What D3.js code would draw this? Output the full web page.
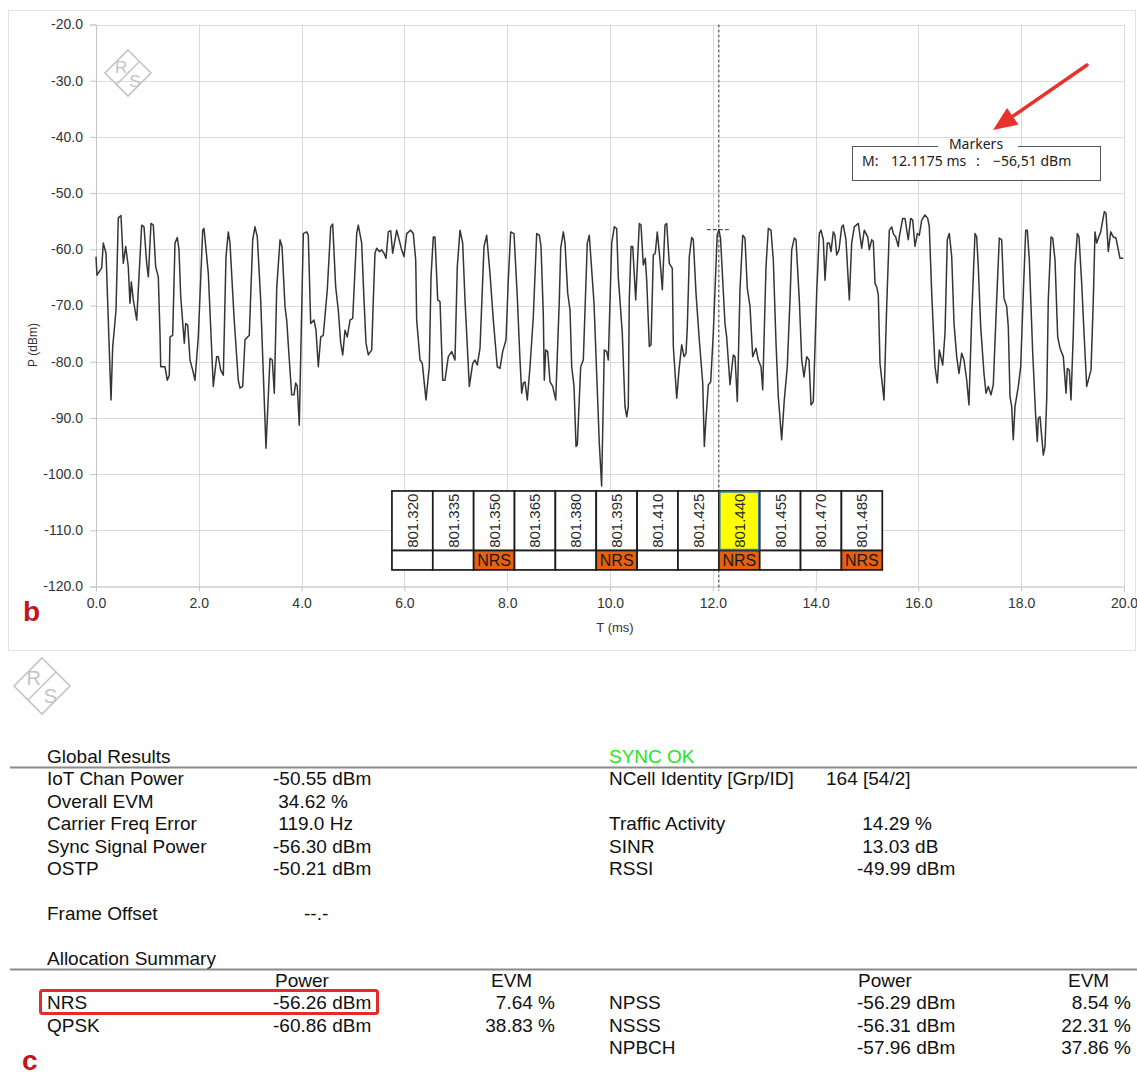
<!DOCTYPE html>
<html>
<head>
<meta charset="utf-8">
<script src="https://cdn.jsdelivr.net/npm/d3@7"></script>
<style>
  body { margin: 0; background: #fff; }
  svg text { white-space: pre; }
</style>
</head>
<body>
<svg id="chart" width="1137" height="1075"></svg>
<script>
const xTicks = [0, 2, 4, 6, 8, 10, 12, 14, 16, 18, 20];
const yTicks = [-20, -30, -40, -50, -60, -70, -80, -90, -100, -110, -120];

// [time ms, power dBm]
const trace = [
  [0,-61.3],[0.019,-64.6],[0.111,-63.3],[0.142,-58.9],[0.195,-60.7],[0.292,-86.8],[0.325,-77.3],[0.350,-74.9],[0.389,-70.8],[0.434,-54.4],
  [0.486,-54.0],[0.531,-62.5],[0.578,-59.5],[0.628,-63.1],[0.661,-69.6],[0.687,-65.8],[0.726,-69.0],[0.792,-72.6],[0.889,-55.7],[0.934,-56.0],
  [0.986,-62.5],[1.018,-64.9],[1.070,-55.4],[1.115,-55.7],[1.161,-63.1],[1.212,-64.9],[1.245,-74.9],[1.259,-80.9],[1.342,-80.9],[1.387,-83.3],
  [1.426,-82.4],[1.440,-75.6],[1.492,-75.3],[1.537,-58.9],[1.582,-57.9],[1.615,-60.1],[1.648,-68.4],[1.718,-76.7],[1.745,-73.2],[1.784,-73.5],
  [1.829,-79.7],[1.881,-81.5],[1.926,-83.3],[1.990,-75.6],[2.076,-56.6],[2.101,-56.3],[2.154,-61.3],[2.185,-64.3],[2.282,-84.4],[2.348,-79.1],
  [2.379,-79.1],[2.426,-81.5],[2.477,-82.4],[2.529,-61.3],[2.574,-56.9],[2.607,-58.9],[2.685,-72.0],[2.768,-83.3],[2.802,-84.7],[2.854,-84.4],
  [2.899,-76.1],[2.982,-75.3],[3.049,-58.3],[3.093,-56.0],[3.138,-57.8],[3.204,-69.0],[3.255,-82.1],[3.307,-95.4],[3.385,-79.4],[3.430,-79.7],
  [3.469,-85.6],[3.516,-66.9],[3.580,-58.3],[3.619,-59.5],[3.677,-70.2],[3.710,-72.6],[3.761,-79.7],[3.807,-85.9],[3.852,-85.9],[3.885,-83.8],
  [3.916,-84.4],[3.955,-91.3],[4.033,-57.2],[4.099,-56.9],[4.130,-57.5],[4.177,-73.2],[4.241,-72.6],[4.280,-74.4],[4.325,-80.9],[4.372,-75.6],
  [4.422,-75.3],[4.500,-67.2],[4.566,-56.0],[4.605,-55.5],[4.663,-66.7],[4.714,-70.8],[4.761,-76.7],[4.800,-78.8],[4.844,-74.4],[4.889,-75.6],
  [4.942,-72.6],[4.994,-72.3],[5.072,-57.2],[5.103,-55.7],[5.169,-58.9],[5.214,-69.0],[5.253,-76.7],[5.298,-78.8],[5.364,-77.9],[5.395,-69.0],
  [5.428,-60.7],[5.461,-59.8],[5.512,-60.4],[5.558,-60.1],[5.603,-60.7],[5.642,-61.6],[5.687,-56.9],[5.733,-56.7],[5.772,-60.7],[5.850,-56.6],
  [5.914,-58.9],[5.947,-60.1],[5.992,-61.3],[6.045,-57.2],[6.122,-56.6],[6.173,-57.2],[6.220,-61.9],[6.239,-72.6],[6.304,-79.7],[6.348,-80.3],
  [6.420,-86.8],[6.484,-80.9],[6.518,-64.9],[6.562,-57.8],[6.595,-57.8],[6.648,-69.0],[6.693,-69.3],[6.745,-83.3],[6.790,-83.3],[6.854,-79.1],
  [6.920,-78.2],[6.984,-79.7],[7.029,-63.1],[7.082,-56.6],[7.134,-58.9],[7.179,-69.0],[7.263,-84.4],[7.329,-80.3],[7.374,-79.7],[7.418,-80.6],
  [7.471,-77.6],[7.549,-59.5],[7.601,-57.5],[7.665,-64.3],[7.730,-72.6],[7.807,-80.9],[7.860,-81.2],[7.912,-78.2],[7.977,-76.1],[8.021,-65.5],
  [8.068,-56.9],[8.132,-57.2],[8.196,-68.4],[8.249,-79.7],[8.282,-85.6],[8.313,-83.8],[8.346,-83.6],[8.391,-86.8],[8.444,-80.9],[8.508,-72.0],
  [8.574,-57.2],[8.625,-57.5],[8.658,-59.5],[8.702,-71.4],[8.722,-83.3],[8.749,-77.9],[8.788,-78.2],[8.833,-83.6],[8.885,-84.4],[8.944,-86.8],
  [9.014,-69.0],[9.041,-59.8],[9.092,-56.9],[9.125,-58.9],[9.177,-67.8],[9.222,-70.8],[9.255,-80.9],[9.300,-84.4],[9.339,-95.1],[9.364,-94.8],
  [9.430,-80.9],[9.481,-79.7],[9.558,-58.9],[9.597,-57.5],[9.689,-69.6],[9.792,-94.5],[9.837,-102.1],[9.889,-77.9],[9.936,-78.2],[9.967,-79.7],
  [10.033,-58.9],[10.084,-56.0],[10.130,-56.3],[10.161,-64.9],[10.239,-74.9],[10.292,-88.0],[10.325,-89.8],[10.356,-88.0],[10.375,-69.0],[10.409,-59.5],
  [10.442,-59.5],[10.500,-69.0],[10.570,-55.4],[10.603,-55.7],[10.648,-62.8],[10.687,-61.6],[10.714,-65.5],[10.765,-77.3],[10.798,-77.0],[10.843,-61.0],
  [10.881,-60.7],[10.920,-56.9],[10.973,-61.9],[11.018,-67.2],[11.070,-55.7],[11.103,-55.4],[11.154,-62.5],[11.212,-63.4],[11.232,-77.3],[11.298,-86.5],
  [11.342,-81.5],[11.395,-77.0],[11.440,-79.1],[11.479,-78.5],[11.504,-73.8],[11.543,-61.3],[11.589,-57.9],[11.621,-58.3],[11.673,-67.8],[11.737,-76.1],
  [11.804,-83.8],[11.835,-95.1],[11.862,-91.0],[11.913,-84.1],[11.959,-83.6],[12.010,-74.9],[12.085,-57.5],[12.118,-56.5],[12.150,-58.0],[12.237,-73.2],
  [12.270,-75.6],[12.335,-84.1],[12.399,-78.8],[12.432,-79.1],[12.477,-87.1],[12.529,-67.2],[12.582,-57.5],[12.626,-58.0],[12.671,-66.9],[12.724,-70.2],
  [12.776,-79.1],[12.840,-77.6],[12.885,-79.7],[12.938,-80.9],[12.971,-85.0],[13.035,-63.1],[13.080,-56.3],[13.132,-56.6],[13.177,-61.9],[13.230,-76.7],
  [13.274,-86.2],[13.340,-93.9],[13.391,-86.8],[13.449,-80.9],[13.502,-69.0],[13.535,-60.1],[13.585,-58.0],[13.619,-58.3],[13.683,-69.0],[13.730,-79.7],
  [13.774,-82.7],[13.827,-79.1],[13.872,-79.7],[13.911,-87.7],[13.955,-87.1],[14.021,-67.8],[14.072,-57.2],[14.105,-56.6],[14.150,-58.3],[14.183,-65.5],
  [14.228,-58.9],[14.267,-58.9],[14.300,-60.4],[14.344,-56.9],[14.377,-57.5],[14.410,-61.0],[14.455,-60.1],[14.508,-56.0],[14.539,-55.7],[14.591,-58.3],
  [14.656,-69.0],[14.702,-58.9],[14.753,-56.0],[14.831,-55.4],[14.897,-59.8],[14.947,-56.6],[15.014,-57.8],[15.045,-60.1],[15.091,-58.3],[15.123,-58.6],
  [15.156,-66.1],[15.189,-66.7],[15.220,-68.1],[15.253,-80.3],[15.331,-86.8],[15.383,-70.2],[15.434,-56.6],[15.481,-56.0],[15.512,-57.2],[15.558,-57.8],
  [15.609,-59.5],[15.628,-57.8],[15.694,-54.5],[15.739,-54.5],[15.803,-58.3],[15.850,-54.5],[15.889,-54.8],[15.934,-59.5],[15.979,-57.2],[16.018,-57.5],
  [16.064,-54.8],[16.128,-53.9],[16.181,-54.5],[16.212,-56.0],[16.259,-67.8],[16.323,-80.9],[16.368,-83.8],[16.407,-77.9],[16.473,-80.6],[16.518,-74.9],
  [16.562,-58.3],[16.601,-57.2],[16.648,-61.3],[16.693,-73.2],[16.745,-79.1],[16.790,-82.1],[16.842,-78.5],[16.887,-79.7],[16.940,-83.3],[16.984,-87.7],
  [17.037,-72.0],[17.101,-57.2],[17.134,-57.8],[17.165,-63.1],[17.212,-73.8],[17.276,-82.1],[17.315,-85.6],[17.360,-84.4],[17.412,-85.9],[17.457,-84.1],
  [17.523,-69.0],[17.574,-58.0],[17.620,-58.3],[17.665,-68.7],[17.718,-70.2],[17.749,-73.8],[17.782,-86.2],[17.815,-88.0],[17.846,-93.9],[17.879,-88.0],
  [17.944,-84.4],[17.990,-80.9],[18.041,-67.8],[18.088,-56.6],[18.119,-56.6],[18.158,-61.9],[18.224,-78.5],[18.282,-89.8],[18.313,-94.2],[18.333,-90.1],
  [18.366,-89.8],[18.430,-96.6],[18.463,-95.1],[18.496,-86.8],[18.527,-69.0],[18.580,-57.8],[18.613,-58.0],[18.658,-61.9],[18.710,-75.6],[18.755,-77.6],
  [18.819,-79.1],[18.872,-85.6],[18.897,-81.2],[18.936,-81.5],[18.969,-86.8],[19.014,-74.9],[19.047,-63.1],[19.092,-57.2],[19.125,-57.8],[19.177,-66.1],
  [19.222,-74.9],[19.274,-84.4],[19.358,-81.5],[19.403,-69.0],[19.436,-56.9],[19.469,-58.9],[19.520,-57.5],[19.547,-56.9],[19.617,-53.3],[19.650,-53.6],
  [19.695,-60.4],[19.741,-56.9],[19.792,-57.8],[19.844,-58.0],[19.922,-61.6],[19.986,-61.6]
];

const marker = { t: 12.1175, p: -56.51 };

// channel strip under the trace
const channels = ["801.320", "801.335", "801.350", "801.365", "801.380", "801.395",
                  "801.410", "801.425", "801.440", "801.455", "801.470", "801.485"];
const nrsFlags = [0, 0, 1, 0, 0, 1, 0, 0, 1, 0, 0, 1];
const activeChannel = "801.440";

// measurement summary
const globalLabels = ["IoT Chan Power", "Overall EVM", "Carrier Freq Error", "Sync Signal Power", "OSTP"];
const globalValues = ["-50.55 dBm", " 34.62 %", " 119.0 Hz", "-56.30 dBm", "-50.21 dBm"];
const syncLabels = ["NCell Identity [Grp/ID]", "", "Traffic Activity", "SINR", "RSSI"];
const syncValues = ["164 [54/2]", "", " 14.29 %", " 13.03 dB", "-49.99 dBm"];
const allocLeft = ["NRS", "QPSK"];
const allocLeftPower = ["-56.26 dBm", "-60.86 dBm"];
const allocLeftEvm = ["7.64 %", "38.83 %"];
const allocRight = ["NPSS", "NSSS", "NPBCH"];
const allocRightPower = ["-56.29 dBm", "-56.31 dBm", "-57.96 dBm"];
const allocRightEvm = ["8.54 %", "22.31 %", "37.86 %"];

// ---- drawing ----
const svg = d3.select("#chart");
const axisFont = '"Liberation Sans Narrow", "Liberation Sans", Arial, sans-serif';
const bodyFont = '"Liberation Sans", Arial, sans-serif';

const x = d3.scaleLinear().domain([0, 20]).range([96, 1124]);
const y = d3.scaleLinear().domain([-20, -120]).range([24.5, 586.5]);

// light frame around panel b
svg.append("rect")
  .attr("x", 8.5).attr("y", 10.5).attr("width", 1127).attr("height", 640)
  .attr("fill", "none").attr("stroke", "#e3e3e3");

// grid
const grid = svg.append("g").attr("stroke", "#dadada").attr("stroke-width", 1);
grid.selectAll("line.h").data(yTicks.slice(0, -1)).join("line").attr("class", "h")
  .attr("x1", x(0)).attr("x2", x(20))
  .attr("y1", d => Math.round(y(d)) + 0.5).attr("y2", d => Math.round(y(d)) + 0.5);
grid.selectAll("line.v").data(xTicks.slice(1)).join("line").attr("class", "v")
  .attr("y1", y(-20)).attr("y2", y(-120))
  .attr("x1", d => Math.round(x(d)) + 0.5).attr("x2", d => Math.round(x(d)) + 0.5);

// R&S watermark: diamond, slash, and the two letters either side of it
function rsLogo(cx, cy, r) {
  const g = svg.append("g").attr("transform", `translate(${cx},${cy})`);
  const col = "#c4c4c4";
  const fs = Math.round(r * 0.72);
  g.append("path")
    .attr("d", `M0,${-r}L${r},0L0,${r}L${-r},0Z`)
    .attr("fill", "none").attr("stroke", col).attr("stroke-width", 1.6);
  g.append("line")
    .attr("x1", -r / 2).attr("y1", r / 2).attr("x2", r / 2).attr("y2", -r / 2)
    .attr("stroke", col).attr("stroke-width", 1.4);
  g.append("text").attr("x", -r * 0.3).attr("y", -r * 0.02)
    .attr("text-anchor", "middle").attr("fill", col)
    .style("font", `${fs}px ${axisFont}`).text("R");
  g.append("text").attr("x", r * 0.3).attr("y", r * 0.62)
    .attr("text-anchor", "middle").attr("fill", col)
    .style("font", `${fs}px ${axisFont}`).text("S");
}
rsLogo(128, 73, 23);
rsLogo(42, 686, 28);

// axes
svg.append("g")
  .attr("transform", `translate(${x(0)},0)`)
  .call(d3.axisLeft(y).tickValues(yTicks).tickFormat(d => d.toFixed(1)).tickSize(6).tickPadding(7))
  .call(g => g.select(".domain").attr("stroke", "#c6c6c6"))
  .call(g => g.selectAll(".tick line").attr("stroke", "#c6c6c6"))
  .call(g => g.selectAll(".tick text").attr("fill", "#333")
    .style("font", `14px ${axisFont}`));

svg.append("g")
  .attr("transform", `translate(0,${y(-120)})`)
  .call(d3.axisBottom(x).tickValues(xTicks).tickFormat(d => d.toFixed(1)).tickSize(5).tickPadding(7))
  .call(g => g.select(".domain").attr("stroke", "#b9b9b9"))
  .call(g => g.selectAll(".tick line").attr("stroke", "#c6c6c6"))
  .call(g => g.selectAll(".tick text").attr("fill", "#333")
    .style("font", `14px ${axisFont}`));

svg.append("text")
  .attr("transform", "translate(37,345) rotate(-90)")
  .attr("text-anchor", "middle").attr("fill", "#333")
  .style("font", `12px ${axisFont}`).text("P (dBm)");
svg.append("text")
  .attr("x", 615).attr("y", 632).attr("text-anchor", "middle").attr("fill", "#333")
  .style("font", `13px ${axisFont}`).text("T (ms)");

// trace
svg.append("path")
  .datum(trace)
  .attr("fill", "none")
  .attr("stroke", "#353535")
  .attr("stroke-width", 1.5)
  .attr("stroke-linejoin", "round")
  .attr("d", d3.line().x(d => x(d[0])).y(d => y(d[1])));

// channel strip, laid out on the time axis so the marker column lines up
const colMs = 0.795;
const stripT0 = marker.t - channels.indexOf(activeChannel) * colMs;
const rowTop = -103, rowMid = -113.6, rowBot = -117.05;
const strip = svg.append("g");
channels.forEach((ch, i) => {
  const x0 = x(stripT0 + i * colMs), x1 = x(stripT0 + (i + 1) * colMs);
  const active = ch === activeChannel;
  strip.append("rect")
    .attr("x", x0).attr("y", y(rowTop)).attr("width", x1 - x0).attr("height", y(rowMid) - y(rowTop))
    .attr("fill", active ? "#ffff00" : "#fff").attr("stroke", "#1a1a1a").attr("stroke-width", 1.7);
  strip.append("rect")
    .attr("x", x0).attr("y", y(rowMid)).attr("width", x1 - x0).attr("height", y(rowBot) - y(rowMid))
    .attr("fill", nrsFlags[i] ? "#e8600f" : "#fff").attr("stroke", "#1a1a1a").attr("stroke-width", 1.7);
  strip.append("text")
    .attr("transform", `translate(${(x0 + x1) / 2 + 5.5},${(y(rowTop) + y(rowMid)) / 2}) rotate(-90)`)
    .attr("text-anchor", "middle").attr("fill", "#2a2a2a")
    .style("font", `15px ${bodyFont}`).text(ch);
  if (nrsFlags[i]) {
    strip.append("text")
      .attr("x", (x0 + x1) / 2).attr("y", y(rowBot) - 3.5)
      .attr("text-anchor", "middle").attr("fill", "#1a1a1a")
      .style("font", `16px ${bodyFont}`).text("NRS");
  }
});
{
  const i = channels.indexOf(activeChannel);
  const x0 = x(stripT0 + i * colMs), x1 = x(stripT0 + (i + 1) * colMs);
  strip.append("rect")
    .attr("x", x0 + 1).attr("y", y(rowTop) + 1).attr("width", x1 - x0 - 2).attr("height", y(rowMid) - y(rowTop) - 2)
    .attr("fill", "none").attr("stroke", "#2f78c4").attr("stroke-width", 1.5);
}

// marker
svg.append("line")
  .attr("x1", x(marker.t)).attr("x2", x(marker.t))
  .attr("y1", y(-20)).attr("y2", y(-120) + 4)
  .attr("stroke", "#333").attr("stroke-width", 1).attr("stroke-dasharray", "3,2");
svg.append("line")
  .attr("x1", x(marker.t) - 12).attr("x2", x(marker.t) + 12)
  .attr("y1", y(marker.p)).attr("y2", y(marker.p))
  .attr("stroke", "#333").attr("stroke-width", 1).attr("stroke-dasharray", "4,2");

// marker readout box
const mb = svg.append("g");
mb.append("rect").attr("x", 852.5).attr("y", 146.5).attr("width", 248).attr("height", 34)
  .attr("fill", "#fff").attr("stroke", "#555").attr("stroke-width", 1);
mb.append("rect").attr("x", 938).attr("y", 140).attr("width", 80).attr("height", 10).attr("fill", "#fff");
const markerFont = `14px "Noto Sans", "Open Sans", sans-serif`;
mb.append("text").attr("x", 976).attr("y", 149).attr("text-anchor", "middle").attr("fill", "#222")
  .style("font", markerFont).text("Markers");
mb.append("text").attr("x", 862).attr("y", 166).attr("fill", "#222").style("font", markerFont).text("M:");
mb.append("text").attr("x", 891).attr("y", 166).attr("fill", "#222").style("font", markerFont)
  .text(`${marker.t.toFixed(4)} ms`);
mb.append("text").attr("x", 976).attr("y", 166).attr("fill", "#222").style("font", markerFont).text(":");
mb.append("text").attr("x", 993).attr("y", 166).attr("fill", "#222").style("font", markerFont)
  .text(`\u2212${Math.abs(marker.p).toFixed(2).replace(".", ",")} dBm`);

// red arrow pointing at the readout
{
  const tail = [1087, 65], tip = [993, 130];
  const dx = tip[0] - tail[0], dy = tip[1] - tail[1], len = Math.hypot(dx, dy);
  const ux = dx / len, uy = dy / len, hl = 24, hw = 10;
  const bx = tip[0] - ux * hl, by = tip[1] - uy * hl;
  svg.append("line").attr("x1", tail[0]).attr("y1", tail[1]).attr("x2", bx + ux * 4).attr("y2", by + uy * 4)
    .attr("stroke", "#e8322b").attr("stroke-width", 3.5).attr("stroke-linecap", "round");
  svg.append("path")
    .attr("d", `M${tip[0]},${tip[1]}L${bx - uy * hw},${by + ux * hw}L${bx + uy * hw},${by - ux * hw}Z`)
    .attr("fill", "#e8322b");
}

// panel letters
svg.append("text").attr("x", 23).attr("y", 621).attr("fill", "#c0171d")
  .style("font", `bold 28px ${bodyFont}`).text("b");
svg.append("text").attr("x", 22).attr("y", 1070).attr("fill", "#c0171d")
  .style("font", `bold 28px ${bodyFont}`).text("c");

// ---- summary tables ----
const tfont = `19px ${bodyFont}`;
const txt = (xx, yy, s, anchor = "start", fill = "#111") =>
  svg.append("text").attr("x", xx).attr("y", yy).attr("text-anchor", anchor)
    .attr("fill", fill).style("font", tfont).text(s);

const rowStep = 22.6;
txt(47, 763, "Global Results");
txt(609, 763, "SYNC OK", "start", "#1ee61e");
svg.append("line").attr("x1", 10).attr("x2", 1137).attr("y1", 767.5).attr("y2", 767.5)
  .attr("stroke", "#8a8a8a").attr("stroke-width", 2);
globalLabels.forEach((s, i) => {
  txt(47, 785 + i * rowStep, s);
  txt(273, 785 + i * rowStep, globalValues[i]);
});
syncLabels.forEach((s, i) => {
  if (!s) return;
  txt(609, 785 + i * rowStep, s);
  txt(i === 0 ? 826 : 857, 785 + i * rowStep, syncValues[i]);
});
txt(47, 920, "Frame Offset");
txt(304, 920, "--.-");

txt(47, 965, "Allocation Summary");
svg.append("line").attr("x1", 10).attr("x2", 1137).attr("y1", 969.5).attr("y2", 969.5)
  .attr("stroke", "#8a8a8a").attr("stroke-width", 2);
txt(275, 987, "Power");
txt(491, 987, "EVM");
txt(858, 987, "Power");
txt(1068, 987, "EVM");
allocLeft.forEach((s, i) => {
  txt(47, 1009 + i * rowStep, s);
  txt(273, 1009 + i * rowStep, allocLeftPower[i]);
  txt(555, 1009 + i * rowStep, allocLeftEvm[i], "end");
});
allocRight.forEach((s, i) => {
  txt(609, 1009 + i * rowStep, s);
  txt(857, 1009 + i * rowStep, allocRightPower[i]);
  txt(1131, 1009 + i * rowStep, allocRightEvm[i], "end");
});
// highlight around the NRS row
svg.append("rect").attr("x", 40.5).attr("y", 990.5).attr("width", 337).attr("height", 23)
  .attr("rx", 2).attr("fill", "none").attr("stroke", "#e62a2a").attr("stroke-width", 3);
</script>
</body>
</html>
